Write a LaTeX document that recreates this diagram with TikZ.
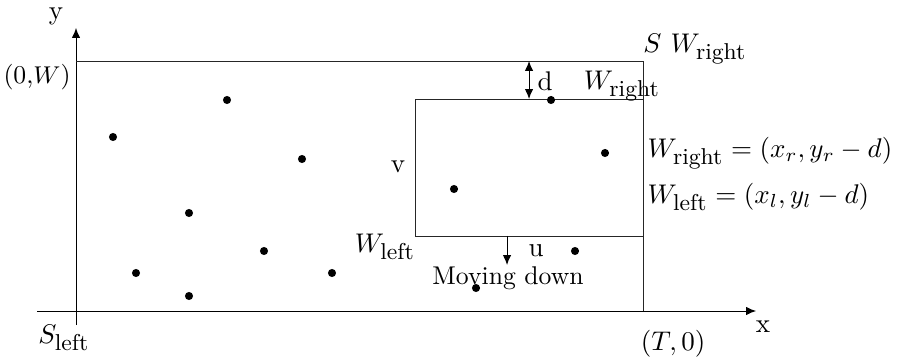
\documentclass[tikz,border=0pt]{standalone}
\usepackage{amsmath}
\usepackage{tikz}
\usetikzlibrary{
  arrows.meta,
  positioning
}
\newcommand{\winsub}[1]{_{\mbox{\fontsize{8.5}{9}\selectfont #1}}}
\tikzset{
  winDot/.style={
    circle,
    fill=black,
    inner sep=0pt,
    minimum size=3pt
  },
  winLabel/.style={
    inner sep=0pt,
    align=center
  },
  winArrow/.style={
    -{Latex[length=1.3mm, width=1.1mm]},
    line width=0.35pt
  },
  winBiArrow/.style={
    {Latex[length=1.3mm, width=1.1mm]}-{Latex[length=1.3mm, width=1.1mm]},
    line width=0.35pt
  },
  winEdge/.style={
    line width=0.35pt,
    draw=black!85
  }
}

\begin{document}
\begin{tikzpicture}[x=0.01302cm, y=-0.01302cm]
  \useasboundingbox (0,0) rectangle (898,358);

  % axes
  \coordinate (xstart) at (37,311);
  \coordinate (xend) at (756,311);
  \coordinate (ystart) at (76,325);
  \coordinate (yend) at (76,28);
  \draw[winArrow] (xstart) -- (xend);
  \draw[winArrow] (ystart) -- (yend);

  % search region
  \coordinate (regTL) at (76,61);
  \coordinate (regTR) at (643,61);
  \coordinate (regBR) at (643,311);
  \draw[winEdge] (regTL) -- (regTR) -- (regBR);

  % window
  \coordinate (winBL) at (415,236);
  \coordinate (winTR) at (643,99);
  \draw[winEdge] (winBL) rectangle (winTR);

  \coordinate (dTop) at (529,61);
  \coordinate (dBot) at (529,99);
  \draw[winBiArrow] (dTop) -- (dBot);

  \coordinate (moveTop) at (507,236);
  \coordinate (moveBot) at (507,265);
  \draw[winArrow] (moveTop) -- (moveBot);

  % points
  \foreach \px/\py [count=\i] in {227/100, 113/137, 302/159, 189/213,
      264/251, 136/273, 332/273, 189/296, 551/100, 605/153,
      454/189, 575/251, 476/288}
    \node[winDot] (pt\i) at (\px,\py) {};

  % labels
  \node[winLabel] (yLab) at (56,16) {y};
  \node[winLabel] (xLab) at (763,327) {x};
  \node[winLabel, font=\fontsize{9.5}{11}\selectfont] (originW) at (37,77) {(0,$W$)};
  \node[winLabel] (sLeft) at (64,338) {$S\winsub{left}$};
  \node[winLabel] (tZero) at (673,344) {$(T,0)$};
  \node[winLabel] (sRight) at (695,49) {$S\ W\winsub{right}$};
  \node[winLabel] (dLab) at (545,81) {d};
  \node[winLabel] (wRight) at (622,86) {$W\winsub{right}$};
  \node[winLabel] (vLab) at (398,167) {v};
  \node[winLabel] (wLeft) at (385,247) {$W\winsub{left}$};
  \node[winLabel] (uLab) at (536,251) {u};
  \node[winLabel, font=\fontsize{9.5}{11}\selectfont] (moving) at (508,278) {Moving down};
  \node[winLabel, anchor=west] (wRightEq) at (647,153)
    {$W\winsub{right} = (x_r, y_r - d)$};
  \node[winLabel, anchor=west] (wLeftEq) at (647,197)
    {$W\winsub{left} = (x_l, y_l - d)$};
\end{tikzpicture}
\end{document}
